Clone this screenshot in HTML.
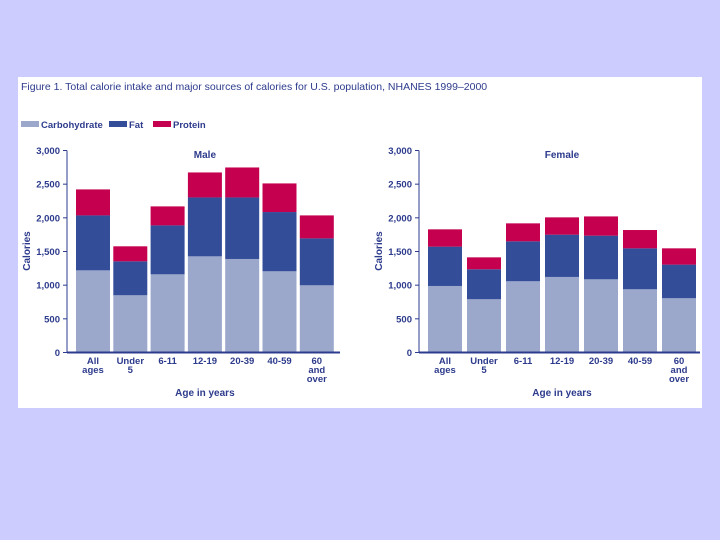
<!DOCTYPE html>
<html><head><meta charset="utf-8"><style>
body{margin:0;width:720px;height:540px;background:#ccccff;overflow:hidden;font-family:"Liberation Sans",sans-serif}
svg{position:absolute;left:0;top:0}
</style></head><body>
<svg id="c" width="720" height="540">
<rect x="18" y="77" width="684" height="331" fill="#fff"/>
<text x="21" y="90" font-size="10.5" fill="#2d3b8c">Figure 1. Total calorie intake and major sources of calories for U.S. population, NHANES 1999–2000</text>
<g font-size="9.5" font-weight="bold" fill="#2d3b8c">
<rect x="21" y="121" width="18" height="6" fill="#9ba8cc"/>
<text x="41" y="128">Carbohydrate</text>
<rect x="109" y="121" width="18" height="6" fill="#344d99"/>
<text x="129" y="128">Fat</text>
<rect x="153" y="121" width="18" height="6" fill="#c4004f"/>
<text x="173" y="128">Protein</text>
</g>
</svg>
<script>
const categories=[["All","ages"],["Under","5"],["6-11"],["12-19"],["20-39"],["40-59"],["60","and","over"]];
const maleCarb=[1220,850,1161,1428,1389,1206,998];
const maleFat=[816,504,727,875,914,880,697];
const maleProtein=[386,223,282,371,445,425,341];
const femaleCarb=[988,791,1058,1122,1087,939,806];
const femaleFat=[584,445,593,628,648,608,499];
const femaleProtein=[257,177,267,257,286,272,242];
const yTicks=[0,500,1000,1500,2000,2500,3000];
const yTickLabels=["0","500","1,000","1,500","2,000","2,500","3,000"];
const svg=document.getElementById('c');
const NS='http://www.w3.org/2000/svg';
function mk(t,a){const e=document.createElementNS(NS,t);for(const k in a)e.setAttribute(k,a[k]);svg.appendChild(e);return e;}
function panel(id,title,axisX,x0,step,bw,axisEnd,carb,fat,prot){
  const y0=352.5,ymax=150.5;
  const ys=v=>y0-(v/3000)*(y0-ymax);
  const col='#2d3b8c';
  yTicks.forEach((v,i)=>{
    const t=mk('line',{x1:axisX-4,x2:axisX,y1:ys(v),y2:ys(v),stroke:col,'stroke-width':1});
    
    
    const l=mk('text',{x:axisX-7,y:ys(v)+3.5,'font-size':9.5,'font-weight':'bold','text-anchor':'end',fill:col});
    l.textContent=yTickLabels[i];
    
    
  });
  categories.forEach((c,i)=>{
    const x=x0+i*step;
    const segs=[[0,carb[i],'#9ba8cc','carbohydrate'],[carb[i],carb[i]+fat[i],'#344d99','fat'],[carb[i]+fat[i],carb[i]+fat[i]+prot[i],'#c4004f','protein']];
    segs.forEach(s=>{
      const r=mk('rect',{x:x,width:bw,y:ys(s[1]),height:ys(s[0])-ys(s[1]),fill:s[2]});
      
      
    });
    c.forEach((w,j)=>{
      const t=mk('text',{x:x+bw/2,y:364+j*9,'font-size':9.5,'font-weight':'bold','text-anchor':'middle',fill:col});
      t.textContent=w;
      
      
    });
  });
  const ax=mk('line',{x1:axisX,x2:axisX,y1:ymax,y2:y0,stroke:col,'stroke-width':1});
  
  
  const bx=mk('line',{x1:axisX,x2:axisEnd,y1:y0,y2:y0,stroke:col,'stroke-width':2});
  
  
  const tt=mk('text',{x:(x0+x0+6*step+bw)/2,y:158,'font-size':10,'font-weight':'bold','text-anchor':'middle',fill:col});
  tt.textContent=title;
  
  
  const xt=mk('text',{x:(x0+x0+6*step+bw)/2,y:396,'font-size':10,'font-weight':'bold','text-anchor':'middle',fill:col});
  xt.textContent='Age in years';
  
  
  const yx=axisX-37;
  const yt=mk('text',{x:yx,y:251,'font-size':10,'font-weight':'bold','text-anchor':'middle',fill:col,transform:'rotate(-90 '+yx+' 251)'});
  yt.textContent='Calories';
  
  
}
panel('male','Male',67,76,37.3,34,340,maleCarb,maleFat,maleProtein);
panel('female','Female',419,428,39,34,700,femaleCarb,femaleFat,femaleProtein);
</script>
</body></html>
